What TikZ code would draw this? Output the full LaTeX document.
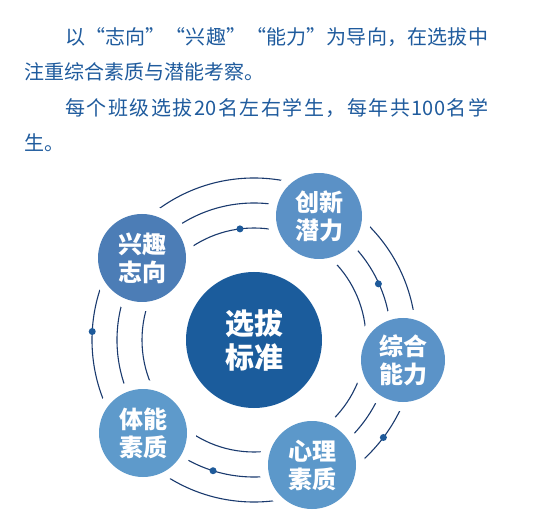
\documentclass[tikz,border=0pt]{standalone}
\usepackage{fontspec}
\usetikzlibrary{calc}
\setmainfont{Noto Sans CJK SC}
\newfontfamily\cjk{Noto Sans CJK SC}
\definecolor{txtblue}{HTML}{1F5B9D}
\definecolor{ringcol}{HTML}{1A3A6E}
\definecolor{dotcol}{HTML}{1E5A9A}
\definecolor{centcol}{HTML}{1B5C9C}
\definecolor{satA}{HTML}{4C7DB6}
\definecolor{satB}{HTML}{5B91C6}
\definecolor{satC}{HTML}{5B93C8}
\definecolor{satD}{HTML}{5C98CA}
\definecolor{satE}{HTML}{5E9ACB}
\begin{document}
\begin{tikzpicture}[x=1pt,y=1pt,
  para/.style={anchor=west,inner sep=0pt,text=txtblue,font=\cjk\fontsize{20}{24}\selectfont},
  ring/.style={draw=ringcol,line width=1.1pt},
  gap/.style={circle,fill=white,inner sep=0pt,minimum size=#1},
  sat/.style={circle,inner sep=0pt,minimum size=88pt,text=white,align=center,
    font=\cjk\bfseries\fontsize{24}{28}\selectfont},
  centre/.style={circle,inner sep=0pt,minimum size=136pt,fill=centcol,text=white,align=center,
    font=\cjk\bfseries\fontsize{29}{34}\selectfont},
  dotmark/.style={circle,fill=dotcol,inner sep=0pt,minimum size=7pt}
]
\useasboundingbox (0,0) rectangle (538,528);
% paragraph text
\node[para] (l1) at (65,491) {\hbox to 423pt{以\hfil “志\hfil 向”\hfil “兴\hfil 趣”\hfil “能\hfil 力”\hfil 为\hfil 导\hfil 向\hfil ，\hfil 在\hfil 选\hfil 拔\hfil 中}};
\node[para] (l2) at (24,456) {注重综合素质与潜能考察。};
\node[para] (l3) at (65,420) {\hbox to 423pt{每\hfil 个\hfil 班\hfil 级\hfil 选\hfil 拔\hfil 20\hfil 名\hfil 左\hfil 右\hfil 学\hfil 生\hfil ，\hfil 每\hfil 年\hfil 共\hfil 100\hfil 名\hfil 学}};
\node[para] (l4) at (24,385) {生。};
% rings
\coordinate (C) at (254,188);
\draw[ring] (C) circle[radius=112pt];
\draw[ring] (C) circle[radius=137pt];
\draw[ring] (C) circle[radius=162pt];
% dots on rings
\node[dotmark] (d1) at ($(C)+(97.2:112pt)$) {};
\node[dotmark] (d2) at ($(C)+(24.3:136.5pt)$) {};
\node[dotmark] (d3) at ($(C)+(-37:162pt)$) {};
\node[dotmark] (d4) at ($(C)+(-107.4:137pt)$) {};
\node[dotmark] (d5) at ($(C)+(177:162pt)$) {};
% white gaps around satellites
\node[gap=106pt] (g1) at (142,270) {};
\node[gap=104pt] (g2) at (319,312) {};
\node[gap=102pt] (g3) at (403,168) {};
\node[gap=106pt] (g4) at (312,63) {};
\node[gap=106pt] (g5) at (143,95) {};
% satellites
\node[sat,fill=satA] (s1) at (142,270) {兴趣\\志向};
\node[sat,fill=satB,minimum size=86pt] (s2) at (319,312) {创新\\潜力};
\node[sat,fill=satC,minimum size=84pt] (s3) at (403,168) {综合\\能力};
\node[sat,fill=satD] (s4) at (312,63) {心理\\素质};
\node[sat,fill=satE] (s5) at (143,95) {体能\\素质};
% centre
\node[centre] (c0) at (C) {选拔\\标准};
\end{tikzpicture}
\end{document}
